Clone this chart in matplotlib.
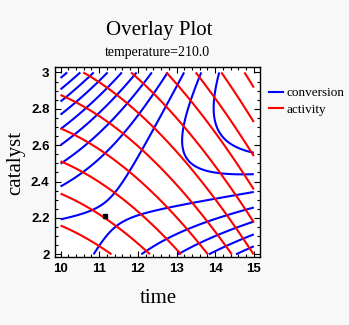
import numpy as np
import matplotlib.pyplot as plt
from matplotlib.ticker import MultipleLocator
from matplotlib.lines import Line2D

# second-order response surface models in coded units
# x1 = time, x2 = temperature, x3 = catalyst
# order: b0, b1, b2, b3, b11, b22, b33, b12, b13, b23
conversion_coef = [81.09, 1.03, 4.04, 6.20, -1.83, 2.94, -5.19, 2.13, 11.38, -3.88]
activity_coef = [59.85, 3.58, 0.25, 2.23, 0.83, 0.07, -0.06, -0.39, -0.04, 0.31]

time_range = [10.0, 15.0]
catalyst_range = [2.0, 3.0]
temperature = 210.0
temperature_coded = 1.682

conversion_levels = [74.2, 76.8, 79.4, 82.0, 84.6, 87.2, 89.8, 92.4, 95.0, 97.6, 100.2]
activity_levels = [56.44, 57.44, 58.44, 59.44, 60.44, 61.44, 62.44, 63.44, 64.44, 65.44, 66.44]

marker_time = [11.15]
marker_catalyst = [2.21]

FG = '#000000'
BG = '#f8f8f8'
SERIF = 'Liberation Serif'
SANS = 'Liberation Sans'


def predict(b, x1, x2, x3):
    return (b[0] + b[1] * x1 + b[2] * x2 + b[3] * x3
            + b[4] * x1 ** 2 + b[5] * x2 ** 2 + b[6] * x3 ** 2
            + b[7] * x1 * x2 + b[8] * x1 * x3 + b[9] * x2 * x3)


t = np.linspace(time_range[0], time_range[1], 301)
c = np.linspace(catalyst_range[0], catalyst_range[1], 301)
T, C = np.meshgrid(t, c)
x1 = (T - np.mean(time_range)) / (np.diff(time_range)[0] / 2)
x3 = (C - np.mean(catalyst_range)) / (np.diff(catalyst_range)[0] / 2)
conversion = predict(conversion_coef, x1, temperature_coded, x3)
activity = predict(activity_coef, x1, temperature_coded, x3)

fig = plt.figure(figsize=(3.49, 3.25), dpi=100, facecolor=BG)
ax = fig.add_axes([0.158, 0.209, 0.587, 0.585])
ax.set_facecolor('white')

ax.contour(T, C, conversion, levels=conversion_levels, colors='#0000ff', linewidths=1.5)
ax.contour(T, C, activity, levels=activity_levels, colors='#ff0000', linewidths=1.5)
ax.plot(marker_time, marker_catalyst, 's', color='black', markersize=3.5)

ax.set_xlim(9.86, 15.16)
ax.set_ylim(1.985, 3.03)
ax.xaxis.set_major_locator(MultipleLocator(1))
ax.xaxis.set_minor_locator(MultipleLocator(0.2))
ax.yaxis.set_minor_locator(MultipleLocator(0.05))
ax.set_yticks([2, 2.2, 2.4, 2.6, 2.8, 3])
ax.set_yticklabels(['2', '2.2', '2.4', '2.6', '2.8', '3'])
ax.tick_params(which='both', direction='in', top=True, right=True, color=FG, width=0.8)
ax.tick_params(which='major', length=4, pad=4)
ax.tick_params(which='minor', length=2.5)
for lab in ax.get_xticklabels() + ax.get_yticklabels():
    lab.set_family(SANS)
    lab.set_weight('bold')
    lab.set_size(9.5)
for sp in ax.spines.values():
    sp.set_linewidth(1.0)

fig.text(0.455, 0.907, 'Overlay Plot', ha='center', va='center', family=SERIF, size=15)
fig.text(0.452, 0.837, 'temperature=%.1f' % temperature, ha='center', va='center',
         family=SERIF, size=10)
fig.text(0.453, 0.083, 'time', ha='center', va='center', family=SERIF, size=15)
fig.text(0.045, 0.50, 'catalyst', ha='center', va='center', rotation=90,
         family=SERIF, size=15)

handles = [Line2D([], [], color='#0000ff', lw=1.5), Line2D([], [], color='#ff0000', lw=1.5)]
fig.legend(handles, ['conversion', 'activity'], loc='upper left',
           bbox_to_anchor=(0.755, 0.748), frameon=False,
           prop={'family': SERIF, 'size': 9.5}, handlelength=1.1,
           handletextpad=0.25, labelspacing=0.3, borderaxespad=0)

fig.savefig('out.png', dpi=100, facecolor=BG)
